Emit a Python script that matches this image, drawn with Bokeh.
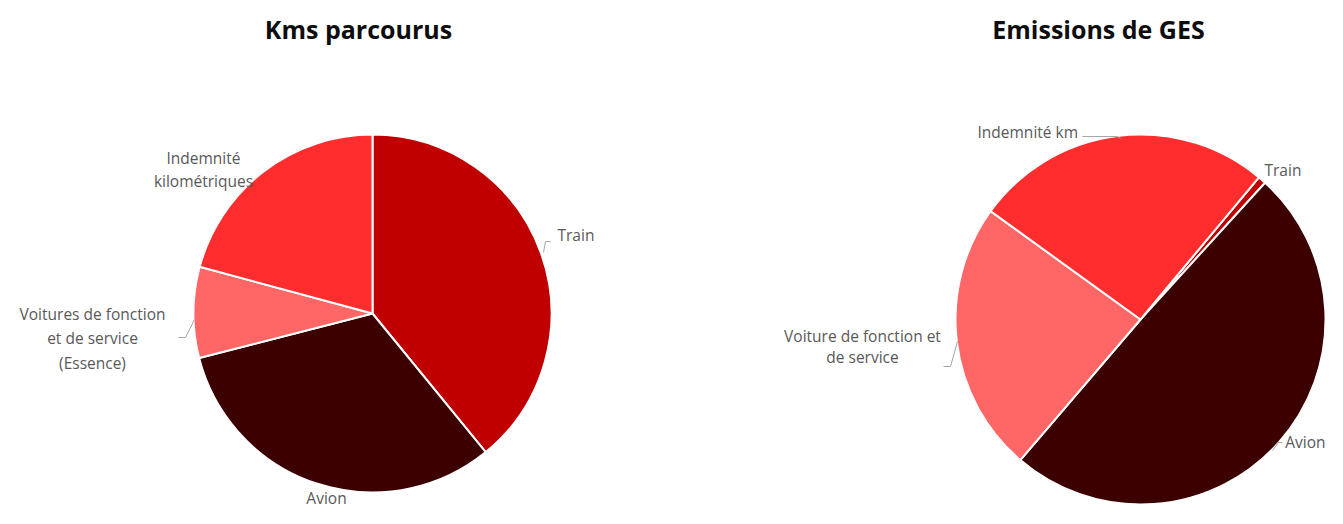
import math
from bokeh.plotting import figure
from bokeh.models import Range1d, ColumnDataSource
from bokeh.core.properties import value
from bokeh.embed import file_html
from bokeh.resources import INLINE

# ---------------- data ----------------
categories = ["Train", "Avion", "Voitures de fonction et de service", "Indemnité kilométriques"]
kms_share = [39.1, 31.9, 8.2, 20.8]      # % of kilometres
ges_share = [0.7, 49.5, 23.7, 26.1]      # % of GHG emissions
slice_colors = ["#C00000", "#3C0000", "#FF6666", "#FF2D2D"]
kms_labels = ["Train", "Avion", "Voitures de fonction\net de service\n(Essence)", "Indemnité\nkilométriques"]
ges_labels = ["Train", "Avion", "Voiture de fonction et\nde service", "Indemnité km"]
titles = ["Kms parcourus", "Emissions de GES"]

# ---------------- layout ----------------
W, H = 1327, 508


def sx(x):
    return x


def sy(y):
    return H - y


FONT = "Open Sans"
p = figure(width=W, height=H, x_range=Range1d(0, W), y_range=Range1d(0, H),
           output_backend="svg", toolbar_location=None, min_border=0)
p.axis.visible = False
p.grid.visible = False
p.outline_line_color = None
p.background_fill_color = "white"

pies = [
    dict(share=kms_share, labels=kms_labels, cx=sx(372), cy=sy(313), r=179, offset=0.0,
         title=titles[0], tx=sx(358), ty=sy(28),
         lab=[(sx(557), sy(234), "left"), (sx(326), sy(497), "center"),
              (sx(92), sy(313), "center"), (sx(203), sy(157), "center")],
         spacing=[0, 0, 24.5, 23],
         leaders=[[(543, 252), (545, 241), (550, 241)],
                  None,
                  [(178, 337), (185, 337), (194, 319)],
                  None]),
    dict(share=ges_share, labels=ges_labels, cx=sx(1140), cy=sy(319), r=185, offset=39.8,
         title=titles[1], tx=sx(1098), ty=sy(28),
         lab=[(sx(1264), sy(169), "left"), (sx(1325), sy(441), "right"),
              (sx(862), sy(335), "center"), (sx(977), sy(131), "left")],
         spacing=[0, 0, 21, 0],
         leaders=[None,
                  [(1272, 450), (1278, 442), (1282, 442)],
                  [(943, 366), (950, 366), (957, 341)],
                  [(1082, 136), (1117, 136), (1120, 138)]]),
]

for pie in pies:
    total = sum(pie["share"])
    start, end = [], []
    acc = 0.0
    base = math.pi / 2 - math.radians(pie["offset"])
    for v in pie["share"]:
        start.append(base - acc / total * 2 * math.pi)
        acc += v
        end.append(base - acc / total * 2 * math.pi)
    src = ColumnDataSource(dict(cat=categories, share=pie["share"], start=start, end=end,
                                color=slice_colors))
    p.wedge(x=pie["cx"], y=pie["cy"], radius=pie["r"], start_angle="start", end_angle="end",
            direction="clock", fill_color="color", line_color="white", line_width=2, source=src)

    # title
    p.text(x=[pie["tx"]], y=[pie["ty"]], text=[pie["title"]], text_font=value(FONT),
           text_font_style="bold", text_font_size="25px", text_color="#0d0d0d",
           text_align="center", text_baseline="middle")

    # labels
    for i, lbl in enumerate(pie["labels"]):
        x0, y0, align = pie["lab"][i]
        lines = lbl.split("\n")
        for k, line in enumerate(lines):
            p.text(x=[x0], y=[y0 - k * pie["spacing"][i]], text=[line], text_font=value(FONT),
                   text_font_size="15.5px", text_color="#595959", text_align=align,
                   text_baseline="middle")
        ld = pie["leaders"][i]
        if ld:
            p.line(x=[sx(a) for a, b in ld], y=[sy(b) for a, b in ld], line_color="#A6A6A6",
                   line_width=1)

open("out.html", "w").write(file_html(p, INLINE))
